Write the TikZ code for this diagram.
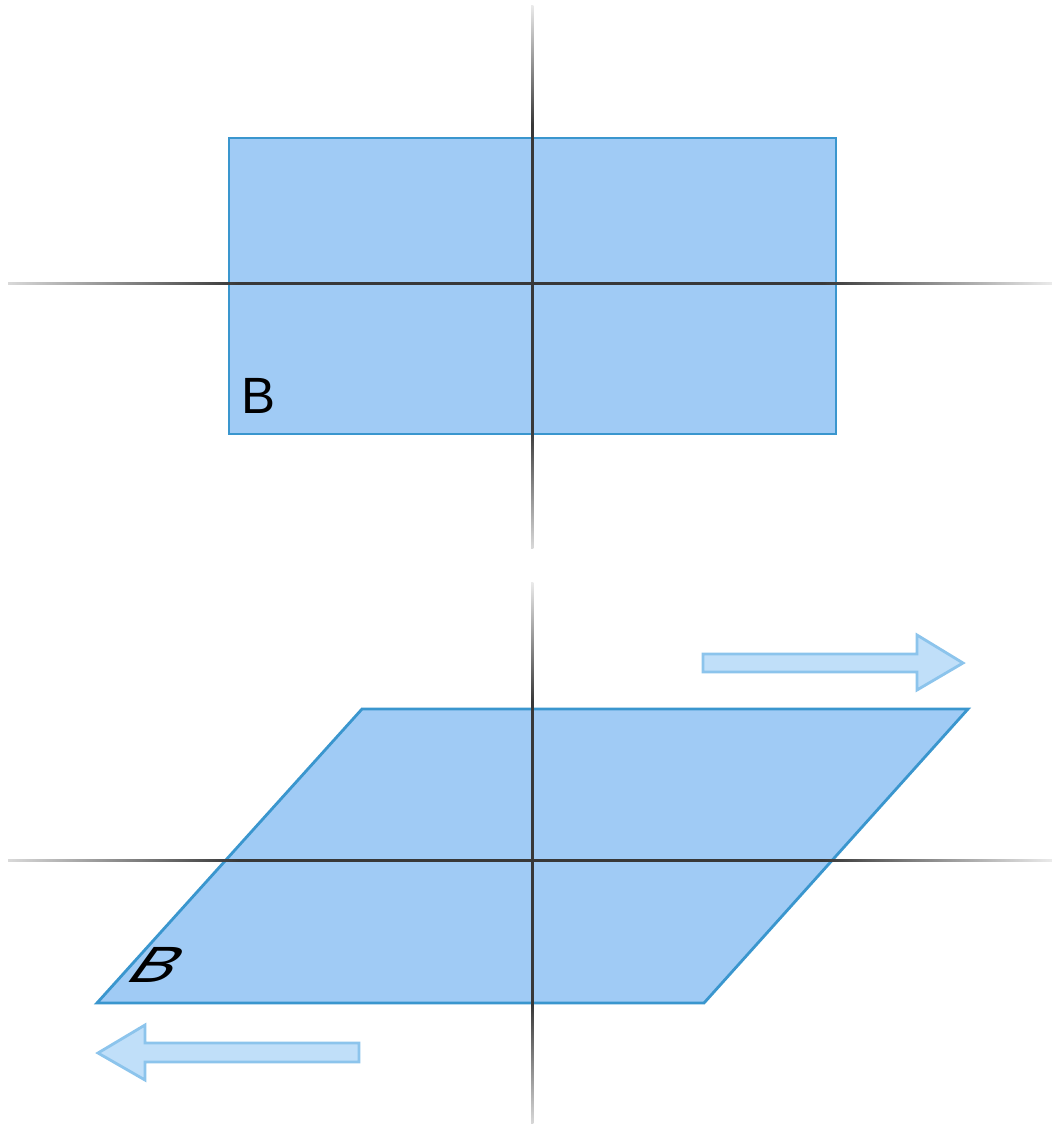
\documentclass[tikz,border=0pt]{standalone}
\usepackage{fontspec}
\setmainfont{Liberation Sans}
\definecolor{planefill}{RGB}{160,203,245}
\definecolor{planeedge}{RGB}{58,150,206}
\definecolor{arrowfill}{RGB}{192,223,249}
\definecolor{arrowedge}{RGB}{140,196,236}
\pgfdeclarehorizontalshading{axisfade}{100bp}{color(0bp)=(black!15); color(25bp)=(black!15);
  color(36bp)=(black!78); color(64bp)=(black!78); color(75bp)=(black!8); color(100bp)=(black!8)}
\tikzset{
  plane/.style={fill=planefill,draw=planeedge,line width=0.8pt,line join=miter},
  shift arrow/.style={fill=arrowfill,draw=arrowedge,line width=0.8pt,line join=miter},
  axis line/.style={shading=axisfade},
  axis line v/.style={shading=axisfade,shading angle=90},
  plane label/.style={inner sep=0pt,font=\fontsize{14.5}{17}\selectfont}
}
\begin{document}
\begin{tikzpicture}[x=0.01cm,y=-0.01cm]
  \useasboundingbox[fill=white] (0,0) rectangle (1052,1124);
  % top: rectangle
  \draw[plane] (229,138) rectangle (836,434);
  \node[plane label] (labelB) at (259,396) {B};
  \shade[axis line] (8,282) rectangle (1052,284.3);
  \shade[axis line v] (531,5) rectangle (533.3,548);
  % bottom: sheared plane
  \draw[plane] (362,709) -- (968,709) -- (704,1003) -- (97,1003) -- cycle;
  \node[plane label,xslant=0.72,xscale=1.3,transform shape] (labelBs) at (158,965) {B};
  \shade[axis line] (8,859) rectangle (1052,861.3);
  \shade[axis line v] (531,582) rectangle (533.3,1124);
  % shear arrows
  \draw[shift arrow] (703,654) -- (917,654) -- (917,635) -- (963,663) -- (917,690)
    -- (917,672) -- (703,672) -- cycle;
  \draw[shift arrow] (359,1043) -- (145,1043) -- (145,1025) -- (98,1053) -- (145,1080)
    -- (145,1062) -- (359,1062) -- cycle;
\end{tikzpicture}
\end{document}
